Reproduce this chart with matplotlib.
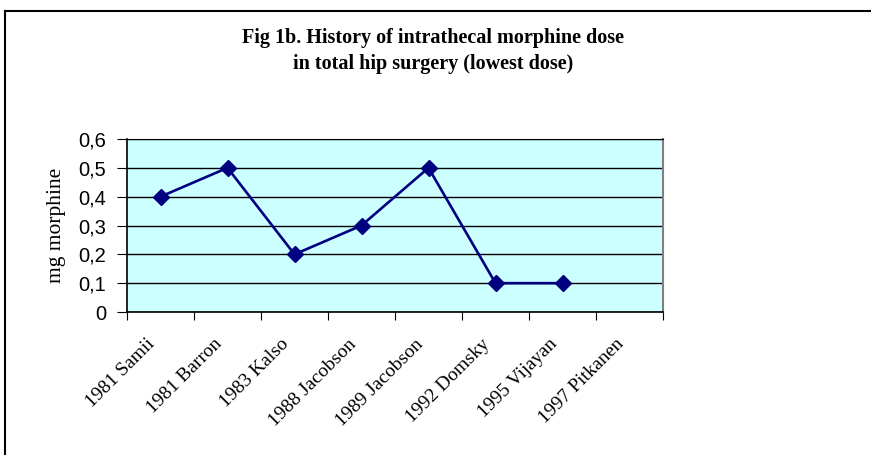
import matplotlib
matplotlib.use("Agg")
import matplotlib.pyplot as plt
from matplotlib.ticker import FuncFormatter
from matplotlib.lines import Line2D
from matplotlib.transforms import ScaledTranslation
import numpy as np

categories = ["1981 Samii", "1981 Barron", "1983 Kalso", "1988 Jacobson",
              "1989 Jacobson", "1992 Domsky", "1995 Vijayan", "1997 Pitkanen"]
doses = [0.4, 0.5, 0.2, 0.3, 0.5, 0.1, 0.1, np.nan]
yticks = [0, 0.1, 0.2, 0.3, 0.4, 0.5, 0.6]

title = "Fig 1b. History of intrathecal morphine dose\nin total hip surgery (lowest dose)"
ylabel = "mg morphine"

W, H = 871, 455
fig = plt.figure(figsize=(W / 100, H / 100), dpi=100)
fig.patch.set_facecolor("white")

# figure border (top and left visible)
fig.add_artist(Line2D([5 / W, 5 / W], [0, 1 - 11 / H], transform=fig.transFigure,
                      color="black", lw=1.5))
fig.add_artist(Line2D([5 / W, 1], [1 - 11 / H, 1 - 11 / H], transform=fig.transFigure,
                      color="black", lw=1.5))

left, right, top, bottom = 127, 663, 139, 312
ax = fig.add_axes([left / W, 1 - bottom / H, (right - left) / W, (bottom - top) / H])
ax.set_facecolor("#CCFFFF")

x = np.arange(len(categories))
ax.plot(x, doses, color="#000080", lw=1.9, marker="D", markersize=8.5,
        markerfacecolor="#000080", markeredgecolor="#000080")

ax.set_xlim(-0.5, len(categories) - 0.5)
ax.set_ylim(0, 0.6)
ax.set_yticks(yticks)
ax.yaxis.set_major_formatter(FuncFormatter(lambda v, p: ("%g" % round(v, 2)).replace(".", ",")))
ax.grid(axis="y", color="black", lw=1)
ax.set_axisbelow(True)

ax.set_xticks(np.arange(len(categories) + 1) - 0.5, minor=False)
ax.set_xticklabels([])
ax.tick_params(axis="x", which="major", direction="out", length=6, color="black")
ax.set_xticks(x, minor=True)
ax.set_xticklabels(categories, minor=True, rotation=45, ha="right", va="top",
                   rotation_mode="anchor", fontfamily="Liberation Serif", fontsize=14)
ax.tick_params(axis="x", which="minor", length=0, pad=17)
shift = ScaledTranslation(-14 / 100, 0, fig.dpi_scale_trans)
for lab in ax.get_xticklabels(minor=True):
    lab.set_transform(lab.get_transform() + shift)

ax.tick_params(axis="y", direction="out", length=7, pad=8, labelsize=14.5, color="black")
for lab in ax.get_yticklabels():
    lab.set_fontfamily("Liberation Sans")

for s in ["left", "bottom"]:
    ax.spines[s].set_color("black")
    ax.spines[s].set_linewidth(1.2)
ax.spines["top"].set_color("black")
ax.spines["right"].set_color("#808080")
ax.spines["right"].set_linewidth(1.5)

ax.set_ylabel(ylabel, fontfamily="Liberation Serif", fontsize=15.5, labelpad=9)

fig.text(433 / W, 1 - 51 / H, title, ha="center", va="center",
         fontfamily="Liberation Serif", fontweight="bold", fontsize=14.5, linespacing=1.35)

fig.savefig("out.png", dpi=100)
